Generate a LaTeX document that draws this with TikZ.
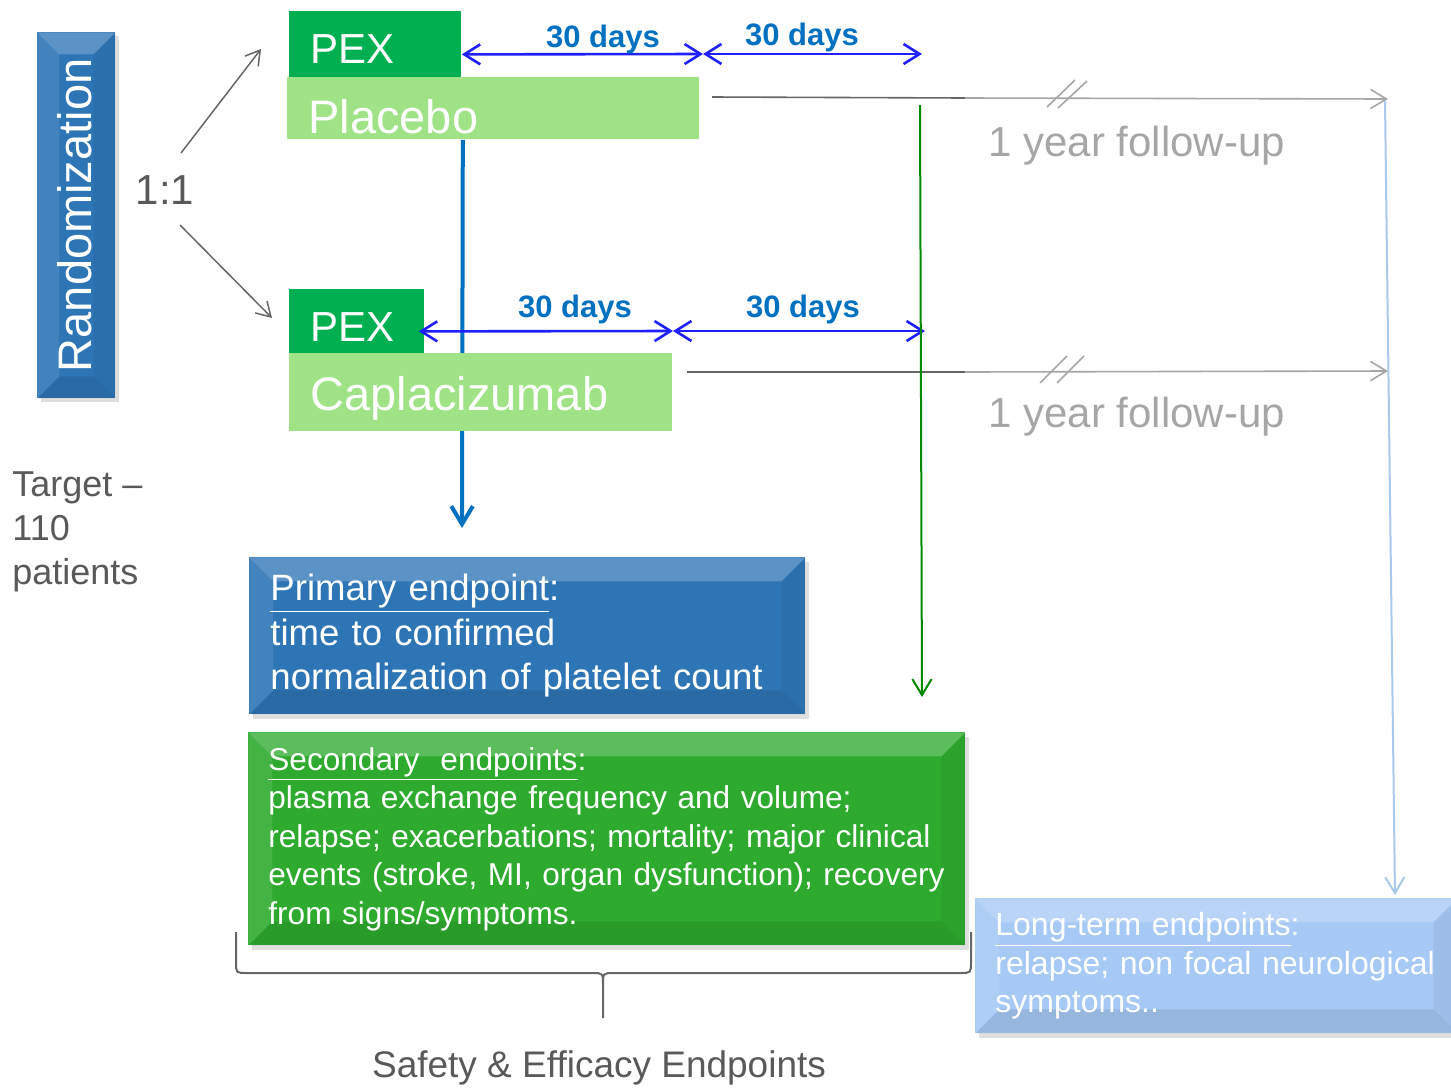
\documentclass[tikz,border=0pt]{standalone}
\usepackage{fontspec}
\setmainfont{Liberation Sans}
\usetikzlibrary{arrows.meta,shadows}

\definecolor{rndblue}{HTML}{2E75B6}
\definecolor{pexgreen}{HTML}{00B050}
\definecolor{armgreen}{HTML}{9FE386}
\definecolor{daysblue}{HTML}{0070C0}
\definecolor{dimblue}{HTML}{2020FF}
\definecolor{secgreen}{HTML}{2EAB2E}
\definecolor{ltblue}{HTML}{A6C9F5}
\definecolor{ltline}{HTML}{A9CAEC}
\definecolor{fugray}{HTML}{A6A6A6}
\definecolor{darkgray}{HTML}{666666}
\definecolor{textgray}{HTML}{595959}
\definecolor{fugreen}{HTML}{008A00}

\pgfdeclarelayer{background}
\pgfsetlayers{background,main}

\tikzset{
  bevel/.style={path picture={
    \fill[white,opacity=.22] (path picture bounding box.north west) -- (path picture bounding box.north east)
      -- ([shift={(-#1,-#1)}]path picture bounding box.north east) -- ([shift={(#1,-#1)}]path picture bounding box.north west) -- cycle;
    \fill[white,opacity=.1] (path picture bounding box.north west) -- ([shift={(#1,-#1)}]path picture bounding box.north west)
      -- ([shift={(#1,#1)}]path picture bounding box.south west) -- (path picture bounding box.south west) -- cycle;
    \fill[black,opacity=.09] (path picture bounding box.south west) -- ([shift={(#1,#1)}]path picture bounding box.south west)
      -- ([shift={(-#1,#1)}]path picture bounding box.south east) -- (path picture bounding box.south east) -- cycle;
    \fill[black,opacity=.05] (path picture bounding box.south east) -- ([shift={(-#1,#1)}]path picture bounding box.south east)
      -- ([shift={(-#1,-#1)}]path picture bounding box.north east) -- (path picture bounding box.north east) -- cycle;
  }},
  vbarb/.style={-{Straight Barb[length=#1,width=1.2*#1]}},
}

\begin{document}
\begin{tikzpicture}[x=0.5pt,y=-0.5pt,
  armbox/.style={anchor=north west,inner sep=0pt,inner xsep=10.5pt,align=left,text=white},
  endbox/.style={armbox,inner xsep=10pt,bevel=12pt,drop shadow={opacity=.25,shadow xshift=2pt,shadow yshift=-2.5pt}},
  dimline/.style={draw=dimblue,line width=1.3pt,{Straight Barb[length=8pt,width=10pt]}-{Straight Barb[length=8pt,width=10pt]}},
  dayslabel/.style={anchor=base,text=daysblue,font=\fontsize{15.5pt}{18pt}\selectfont\bfseries},
  fulabel/.style={anchor=base west,inner sep=0pt,text=fugray,font=\fontsize{21pt}{25pt}\selectfont},
  grayarr/.style={draw=darkgray,line width=0.75pt,vbarb=7pt},
]
\useasboundingbox (0,0) rectangle (1451,1088);

\node[armbox,fill=rndblue,bevel=11pt,drop shadow={opacity=.25,shadow xshift=2pt,shadow yshift=-2pt},
  minimum width=39pt,minimum height=183pt] (rand) at (37,32) {};
\node[rotate=90,text=white,font=\fontsize{23.5pt}{28pt}\selectfont] (randtxt) at ([xshift=-1pt]rand.center) {Randomization};
\node[text=textgray,font=\fontsize{21pt}{25pt}\selectfont] (ratio) at (165,190) {1:1};
\node[anchor=west,align=left,inner sep=0pt,text=textgray,font=\fontsize{18pt}{22pt}\selectfont] (target) at (12,532) {Target --\\110\\patients};

\node[armbox,fill=pexgreen,minimum width=86pt,minimum height=33pt,text width=65pt,text height=19pt,text depth=0pt,
  font=\fontsize{21pt}{25pt}\selectfont] (pexA) at (289,11) {PEX};
\node[armbox,fill=armgreen,minimum width=206pt,minimum height=31pt,text width=185pt,text height=25pt,text depth=0pt,
  font=\fontsize{23.5pt}{28pt}\selectfont] (placebo) at (287,77) {Placebo};
\node[armbox,fill=pexgreen,minimum width=67.5pt,minimum height=32pt,text width=46.5pt,text height=20pt,text depth=0pt,
  font=\fontsize{21pt}{25pt}\selectfont] (pexB) at (289,289) {PEX};
\node[armbox,fill=armgreen,minimum width=191.5pt,minimum height=39pt,text width=170.5pt,text height=18pt,text depth=0pt,
  font=\fontsize{23.5pt}{28pt}\selectfont] (capla) at (289,353) {Caplacizumab};

\node[endbox,fill=rndblue,minimum width=278pt,minimum height=78.5pt,text width=257pt,
  font=\fontsize{18.3pt}{22.25pt}\selectfont] (primary) at (249,557)
  {\underline{Primary endpoint}:\\time to confirmed\\normalization of platelet count};
\node[endbox,fill=secgreen,minimum width=358.5pt,minimum height=106.5pt,text width=338.5pt,
  font=\fontsize{15.8pt}{19.25pt}\selectfont] (secondary) at (248,732)
  {\underline{Secondary\ \ endpoints}:\\plasma exchange frequency and volume;\\relapse; exacerbations; mortality; major clinical\\\mbox{events (stroke, MI, organ dysfunction); recovery}\\from signs/symptoms.};
\node[endbox,fill=ltblue,minimum width=241pt,minimum height=67.5pt,text width=221pt,
  font=\fontsize{16pt}{19.25pt}\selectfont] (longterm) at (975,898)
  {\underline{Long-term endpoints}:\\relapse; non focal neurological\\symptoms..};

\node[text=textgray,font=\fontsize{18.5pt}{22pt}\selectfont] (safety) at (599,1068) {Safety \& Efficacy Endpoints};

\coordinate (upS) at (181,153);
\coordinate (upE) at (261,49);
\coordinate (dnS) at (180,225);
\coordinate (dnE) at (272,318);
\draw[grayarr] (upS) -- (upE);
\draw[grayarr] (dnS) -- (dnE);

\coordinate (blueend) at (462,528);
\begin{pgfonlayer}{background}
\draw[daysblue,line width=2pt,vbarb=9pt] (pexA.south east |- placebo.south) ++(1,0) -- (blueend);
\end{pgfonlayer}

\coordinate (dA0) at ([yshift=-5pt]pexA.east);
\coordinate (dA1) at (703,54);
\coordinate (dA2) at (922,54);
\coordinate (dB0) at ([shift={(-3pt,-5pt)}]pexB.east);
\coordinate (dB1) at (673,331);
\coordinate (dB2) at (925,331);
\draw[dimline] (dA0) -- (dA1);
\draw[dimline] (dA1) -- (dA2);
\draw[dimline] (dB0) -- (dB1);
\draw[dimline] (dB1) -- (dB2);
\node[dayslabel] (daysA1) at (603,47) {30 days};
\node[dayslabel] (daysA2) at (802,45) {30 days};
\node[dayslabel] (daysB1) at (575,317) {30 days};
\node[dayslabel] (daysB2) at (803,317) {30 days};

\coordinate (fuA0) at (712,97);
\coordinate (fuA1) at (965,98);
\coordinate (fuA2) at (1388,99);
\coordinate (fuB0) at (687,372);
\coordinate (fuB1) at (965,372);
\coordinate (fuB2) at (1388,371);
\draw[darkgray,line width=0.8pt] (fuA0) -- (fuA1);
\draw[fugray,line width=0.8pt,vbarb=8pt] (fuA1) -- (fuA2);
\draw[fugray,line width=0.8pt] (1047,107) -- (1075,80) (1058,108) -- (1087,81);
\draw[darkgray,line width=0.8pt] (fuB0) -- (fuB1);
\draw[fugray,line width=0.8pt,vbarb=8pt] (fuB1) -- (fuB2);
\draw[fugray,line width=0.8pt] (1040,383) -- (1067,356) (1057,383) -- (1084,356);
\node[fulabel] (fuAtxt) at (988,156) {1 year follow-up};
\node[fulabel] (fuBtxt) at (988,427) {1 year follow-up};

\coordinate (grtop) at (920,105);
\coordinate (grend) at (922,697);
\draw[fugreen,line width=1pt,vbarb=8pt] (grtop) -- (grend);

\coordinate (lttop) at (1385,101);
\coordinate (ltend) at (1395,895);
\draw[ltline,line width=1pt,vbarb=8pt] (lttop) -- (ltend);

\draw[darkgray,line width=1pt] (236,932) -- (236,962) .. controls (236,973) .. (247,973) -- (592,973)
  .. controls (603,973) .. (603,985) -- (603,1018) (603,985) .. controls (603,973) .. (614,973) -- (960,973)
  .. controls (971,973) .. (971,962) -- (971,932);
\end{tikzpicture}
\end{document}
